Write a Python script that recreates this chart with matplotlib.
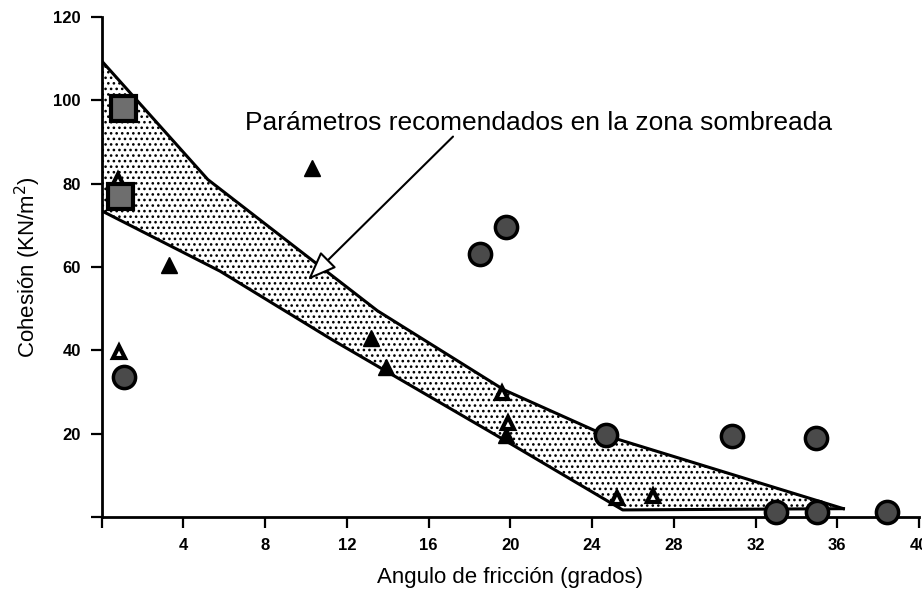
import matplotlib
matplotlib.use("Agg")
import matplotlib.pyplot as plt

plt.rcParams["font.family"] = ["Liberation Sans", "DejaVu Sans"]
plt.rcParams["hatch.linewidth"] = 1.1
plt.rcParams["hatch.color"] = "black"

# Limits of the recommended zone (friction angle in degrees, cohesion in kN/m2)
upper_phi = [0.0, 5.2, 13.5, 19.7, 24.7, 36.3]
upper_c = [109.5, 81.0, 49.5, 30.5, 19.5, 2.0]
lower_phi = [0.0, 5.8, 11.3, 19.7, 25.5, 36.3]
lower_c = [73.5, 59.0, 42.5, 18.5, 1.7, 2.0]

# Data points
square_phi = [1.05, 0.9]
square_c = [98.1, 77.0]

tri_solid_phi = [10.3, 3.3, 13.2, 13.9, 19.8]
tri_solid_c = [83.8, 60.5, 43.0, 36.1, 19.8]

tri_open_phi = [0.8, 0.85, 19.6, 19.9, 25.2, 27.0]
tri_open_c = [81.0, 39.7, 29.8, 22.6, 4.6, 5.0]

circle_phi = [1.1, 18.5, 19.8, 24.7, 30.85, 34.95, 33.0, 35.0, 38.45]
circle_c = [33.7, 63.1, 69.7, 19.7, 19.4, 18.9, 1.3, 1.3, 1.3]

x_ticks = [0, 4, 8, 12, 16, 20, 24, 28, 32, 36, 40]
y_ticks = [0, 20, 40, 60, 80, 100, 120]

fig = plt.figure(figsize=(9.22, 6.04), dpi=100)
ax = fig.add_axes([101.5 / 922, 87 / 604, 817.5 / 922, 500 / 604])

# Shaded zone
zone_x = upper_phi + lower_phi[::-1]
zone_y = upper_c + lower_c[::-1]
ax.fill(zone_x, zone_y, facecolor="white", edgecolor="black",
        hatch="...", linewidth=0, zorder=1)
ax.plot(upper_phi, upper_c, color="black", lw=2.2, zorder=2)
ax.plot(lower_phi, lower_c, color="black", lw=2.2, zorder=2)

# Markers
ax.plot(tri_open_phi, tri_open_c, linestyle="none", marker="^", ms=9,
        mfc="white", mec="black", mew=3, zorder=3, clip_on=False)
ax.plot(tri_solid_phi, tri_solid_c, linestyle="none", marker="^", ms=11,
        mfc="black", mec="black", mew=1, zorder=3, clip_on=False)
ax.plot(square_phi, square_c, linestyle="none", marker="s", ms=18,
        mfc="#6e6e6e", mec="black", mew=3, zorder=4, clip_on=False)
ax.plot(circle_phi, circle_c, linestyle="none", marker="o", ms=16,
        mfc="#4a4a4a", mec="black", mew=2.5, zorder=4, clip_on=False)

# Annotation
ax.text(7.0, 92.9, "Parámetros recomendados en la zona sombreada",
        fontsize=19, ha="left", va="baseline", zorder=5)
ax.annotate("", xy=(10.1, 56.9), xytext=(17.2, 91.3),
            arrowprops=dict(arrowstyle="-|>,head_length=0.9,head_width=0.35",
                            mutation_scale=20, fc="white", ec="black",
                            lw=1.5, shrinkA=0, shrinkB=0),
            zorder=5)

# Axes
ax.set_xlim(0, 40)
ax.set_ylim(0, 120)
ax.set_xticks(x_ticks)
ax.set_xticklabels([""] + [str(v) for v in x_ticks[1:]])
ax.set_yticks(y_ticks)
ax.set_yticklabels([""] + [str(v) for v in y_ticks[1:]])
for lab in ax.get_xticklabels() + ax.get_yticklabels():
    lab.set_fontweight("bold")
    lab.set_fontsize(12)
ax.tick_params(axis="both", direction="out", length=8, width=1.6,
               color="black")
ax.tick_params(axis="x", pad=7)
ax.tick_params(axis="y", pad=7)

for side in ("top", "right"):
    ax.spines[side].set_visible(False)
for side in ("left", "bottom"):
    ax.spines[side].set_linewidth(2)

ax.set_xlabel("Angulo de fricción (grados)", fontsize=16)
ax.set_ylabel("Cohesión (KN/m$^2$)", fontsize=16)
ax.xaxis.set_label_coords(0.5, -0.122)
ax.xaxis.label.set_va("center")
ax.yaxis.set_label_coords(-0.09, 0.5)
ax.yaxis.label.set_va("center")

fig.savefig("out.png", dpi=100)
